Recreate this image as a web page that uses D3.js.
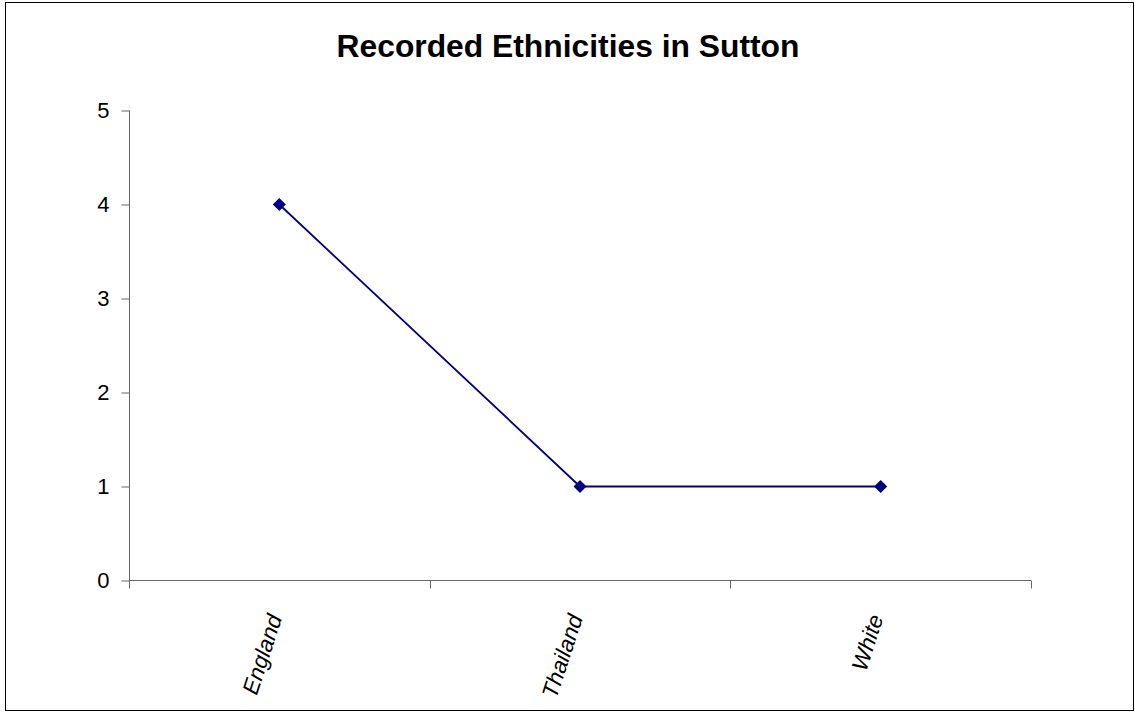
<!DOCTYPE html>
<html lang="en">
<head>
    <meta charset="UTF-8">
    <title>Recorded Ethnicities in Sutton</title>
    <style>
        body { margin: 0; background: #fff; }
        svg text { font-family: Arial, 'Liberation Sans', sans-serif; }
    </style>
    <script src="https://d3js.org/d3.v7.min.js"></script>
</head>
<body>
    <svg width="1135" height="712"></svg>
    <script>
        const categories = ["England", "Thailand", "White"];
        const counts = [4, 1, 1];
        const yTicks = [0, 1, 2, 3, 4, 5];

        const width = 1135, height = 712;
        const svg = d3.select("svg").attr("width", width).attr("height", height);

        // outer frame
        svg.append("rect")
            .attr("x", 5.5).attr("y", 2.5)
            .attr("width", 1128).attr("height", 708)
            .attr("fill", "white")
            .attr("stroke", "black")
            .attr("stroke-width", 1);

        const x = d3.scaleBand()
            .domain(categories)
            .range([129, 1031])
            .padding(0);

        const y = d3.scaleLinear()
            .domain([0, 5])
            .range([580.5, 110.5]);

        // y axis
        const yAxis = svg.append("g")
            .attr("transform", "translate(129.5, 0)")
            .call(d3.axisLeft(y).tickValues(yTicks).tickSize(8).tickPadding(12).tickFormat(d3.format("d")));
        yAxis.select(".domain").attr("stroke", "#666").attr("d", "M0,110.5V588");
        yAxis.selectAll(".tick line").attr("stroke", "#666");
        yAxis.selectAll(".tick text")
            .style("font-size", "22px")
            .attr("fill", "black");

        // x axis with ticks at band edges
        const xAxis = svg.append("g")
            .attr("transform", "translate(0, 580.5)");
        xAxis.append("line")
            .attr("x1", 129).attr("x2", 1031)
            .attr("stroke", "#666");
        const edges = categories.map(c => x(c) + x.bandwidth()).concat([x(categories[0])]);
        xAxis.selectAll("line.tick")
            .data(edges)
            .enter().append("line")
            .attr("class", "tick")
            .attr("x1", d => Math.round(d) + 0.5).attr("x2", d => Math.round(d) + 0.5)
            .attr("y1", 0).attr("y2", 8)
            .attr("stroke", "#666");

        xAxis.selectAll("text.cat")
            .data(categories)
            .enter().append("text")
            .attr("class", "cat")
            .attr("transform", d => `translate(${x(d) + x.bandwidth() / 2 + 3}, 37) rotate(-72)`)
            .attr("text-anchor", "end")
            .style("font-size", "22.5px")
            .style("font-style", "italic")
            .text(d => d);

        // series line
        const points = categories.map((c, i) => ({ cat: c, value: counts[i] }));
        const line = d3.line()
            .x(d => x(d.cat) + x.bandwidth() / 2)
            .y(d => y(d.value));

        svg.append("path")
            .datum(points)
            .attr("fill", "none")
            .attr("stroke", "#000080")
            .attr("stroke-width", 1.8)
            .attr("d", line);

        svg.selectAll("path.marker")
            .data(points)
            .enter().append("path")
            .attr("class", "marker")
            .attr("d", d3.symbol(d3.symbolSquare, 85))
            .attr("transform", d => `translate(${x(d.cat) + x.bandwidth() / 2}, ${y(d.value)}) rotate(45)`)
            .attr("fill", "#000080");

        svg.append("text")
            .attr("x", 568)
            .attr("y", 57)
            .attr("text-anchor", "middle")
            .style("font-size", "31.8px")
            .style("font-weight", "700")
            .text("Recorded Ethnicities in Sutton");
    </script>
</body>
</html>
